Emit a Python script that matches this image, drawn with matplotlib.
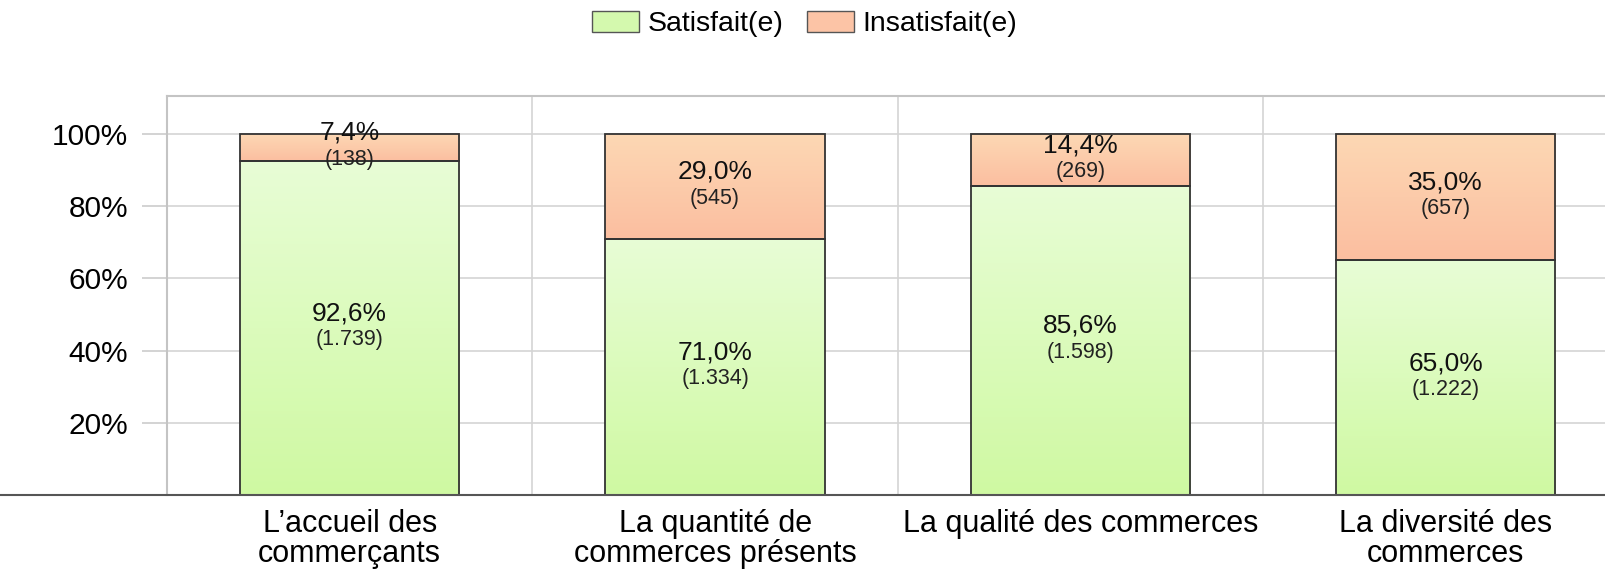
import numpy as np
import matplotlib
matplotlib.use("Agg")
import matplotlib.pyplot as plt
from matplotlib.colors import LinearSegmentedColormap
from matplotlib.patches import Patch

plt.rcParams['font.family'] = ['Liberation Sans', 'DejaVu Sans']

# données
categories = ["L\u2019accueil des\ncommerçants",
              "La quantité de\ncommerces présents",
              "La qualité des commerces",
              "La diversité des\ncommerces"]
satisfait_pct = [92.6, 71.0, 85.6, 65.0]
satisfait_n = ["1.739", "1.334", "1.598", "1.222"]
insatisfait_pct = [7.4, 29.0, 14.4, 35.0]
insatisfait_n = ["138", "545", "269", "657"]
yticks = [20, 40, 60, 80, 100]

# couleurs (haut -> bas du dégradé)
green_grad = ["#e8fdd6", "#cff9a2"]
orange_grad = ["#fdd8b4", "#fbbea0"]
green_leg = "#d4f9ae"
orange_leg = "#fcc4a6"

fig = plt.figure(figsize=(16.06, 5.72), dpi=100)
ax = fig.add_axes([0.104, 0.1346, 0.91, 0.6976])

x = np.arange(len(categories))
width = 0.6
b1 = ax.bar(x, satisfait_pct, width, facecolor='none', edgecolor='#333333',
            linewidth=1.3, zorder=4)
b2 = ax.bar(x, insatisfait_pct, width, bottom=satisfait_pct, facecolor='none',
            edgecolor='#333333', linewidth=1.3, zorder=4)


def fill_gradient(bars, colors):
    cmap = LinearSegmentedColormap.from_list("g", colors[::-1])
    grad = np.linspace(0, 1, 256).reshape(-1, 1)
    for p in bars:
        x0, y0 = p.get_x(), p.get_y()
        ax.imshow(grad, cmap=cmap, origin='lower', aspect='auto',
                  extent=[x0, x0 + p.get_width(), y0, y0 + p.get_height()],
                  zorder=3, interpolation='bilinear')


fill_gradient(b1, green_grad)
fill_gradient(b2, orange_grad)


def label(xc, yc, pct, n):
    ax.annotate(f"{pct:.1f}%".replace('.', ','), (xc, yc), xytext=(0, 10.5),
                textcoords='offset points', ha='center', va='center',
                fontsize=19, color='#111111', zorder=5)
    ax.annotate(f"({n})", (xc, yc), xytext=(0, -8.5),
                textcoords='offset points', ha='center', va='center',
                fontsize=15.5, color='#222222', zorder=5)


for i in range(len(categories)):
    label(x[i], satisfait_pct[i] / 2, satisfait_pct[i], satisfait_n[i])
    label(x[i], satisfait_pct[i] + insatisfait_pct[i] / 2,
          insatisfait_pct[i], insatisfait_n[i])

ax.set_xlim(-0.5, len(categories) - 0.5)
ax.set_ylim(0, 110.5)
ax.set_yticks(yticks)
ax.set_yticklabels([f"{v}%" for v in yticks], fontsize=21.5)
ax.set_xticks(x)
ax.set_xticklabels(categories, fontsize=22, linespacing=1.02)
ax.set_xticks(x[:-1] + 0.5, minor=True)
ax.tick_params(axis='x', which='both', length=0, pad=10)
ax.tick_params(axis='y', length=18, color='#cccccc', width=1.2, pad=10)

ax.grid(axis='y', color='#d4d4d4', linewidth=1.2, zorder=0)
ax.grid(axis='x', which='minor', color='#d4d4d4', linewidth=1.2, zorder=0)
ax.set_axisbelow(True)

for s in ['top', 'left', 'right']:
    ax.spines[s].set_color('#c4c4c4')
    ax.spines[s].set_linewidth(1.5)
ax.spines['bottom'].set_visible(False)
ax.axhline(0, xmin=-0.2, xmax=1.1, clip_on=False, color='#555555',
           linewidth=1.5, zorder=6)

handles = [Patch(facecolor=green_leg, edgecolor='#555555', label='Satisfait(e)'),
           Patch(facecolor=orange_leg, edgecolor='#555555', label='Insatisfait(e)')]
fig.legend(handles=handles, loc='upper center', bbox_to_anchor=(0.501, 1.001),
           ncol=2, frameon=False, fontsize=20.5, handlelength=1.65,
           handleheight=0.75, handletextpad=0.3, columnspacing=0.85,
           borderaxespad=0.0)

fig.savefig("out.png", dpi=100, facecolor='white')
